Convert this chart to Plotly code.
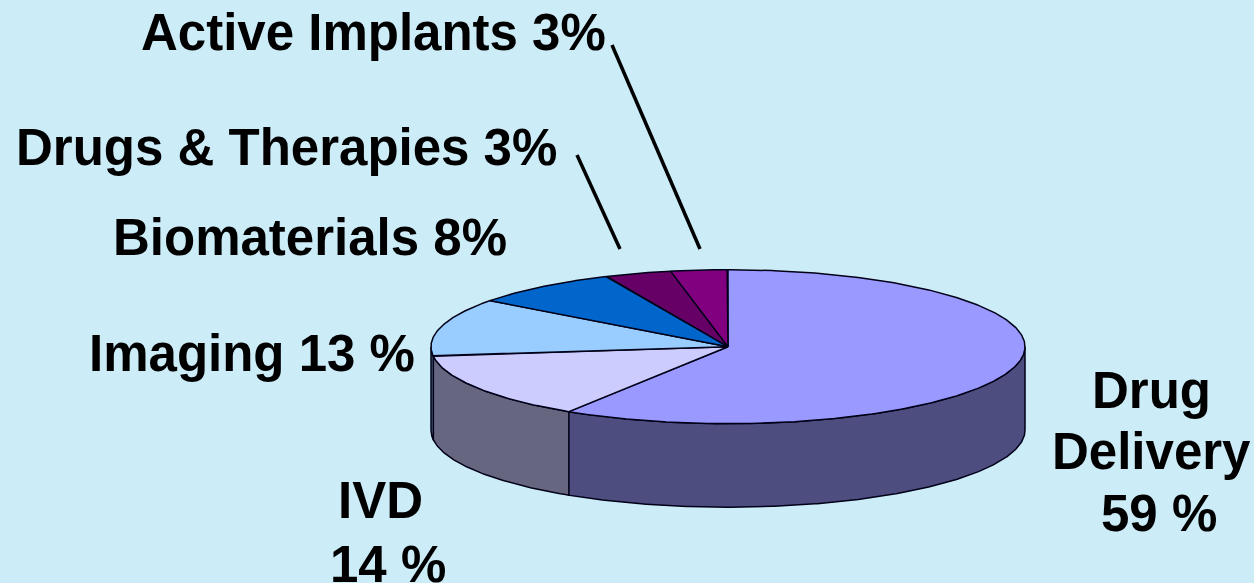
import numpy as np
import plotly.graph_objects as go

categories = ["Drug Delivery", "IVD", "Imaging", "Biomaterials", "Drugs & Therapies", "Active Implants"]
shares = [59, 14, 12.2, 8.1, 3.6, 3.1]
top_colors = ["#9999FF", "#CCCCFF", "#99CCFF", "#0066CC", "#660066", "#800080"]
side_colors = ["#4D4D80", "#666680", "#4D6680", "#003366", "#330033", "#400040"]
label_lines = ["Drug", "Delivery", "59 %", "IVD", "14 %", "Imaging 13 %", "Biomaterials 8%",
               "Drugs &amp; Therapies 3%", "Active Implants 3%"]

CX, CY, RX, RY, DEPTH = 728, 346.7, 297, 77, 83.5
BG = "#CCECF8"
OUT = "#000018"


def rim(a0, a1):
    t = np.radians(np.arange(a0, a1 + 0.25, 0.5))
    return CX + RX * np.sin(t), CY - RY * np.cos(t)


fig = go.Figure()
edges = np.concatenate([[0], np.cumsum(shares)]) * 3.6

# Visible outer wall: the front half of the ellipse (90 to 270 degrees clockwise from the top)
for i in range(len(shares)):
    a0, a1 = max(edges[i], 90), min(edges[i + 1], 270)
    if a1 <= a0:
        continue
    x, y = rim(a0, a1)
    fig.add_trace(go.Scatter(
        x=np.concatenate([x, x[::-1], x[:1]]),
        y=np.concatenate([y, y[::-1] + DEPTH, y[:1]]),
        mode="lines", fill="toself", fillcolor=side_colors[i],
        line=dict(color=OUT, width=1.5), hoverinfo="skip", showlegend=False))

# Top face
for i, name in enumerate(categories):
    x, y = rim(edges[i], edges[i + 1])
    fig.add_trace(go.Scatter(
        x=np.concatenate([[CX], x, [CX]]),
        y=np.concatenate([[CY], y, [CY]]),
        mode="lines", fill="toself", fillcolor=top_colors[i], name=name,
        line=dict(color=OUT, width=1.5), showlegend=False))

# Leader lines
leaders = [((612, 45), (700, 249)), ((577, 155), (620, 249))]
for p, q in leaders:
    fig.add_trace(go.Scatter(x=[p[0], q[0]], y=[p[1], q[1]], mode="lines",
                             line=dict(color="black", width=3.5), hoverinfo="skip", showlegend=False))

label_pos = [(1151, 390), (1151, 451), (1159, 513), (380, 500), (388, 564),
             (252, 353), (310, 237), (286, 147), (373.5, 32)]
annotations = [dict(x=x, y=y, text="<b>" + t + "</b>", showarrow=False, xref="x", yref="y",
                    font=dict(family="Liberation Sans", size=51, color="black"),
                    align="center", xanchor="center", yanchor="middle")
               for t, (x, y) in zip(label_lines, label_pos)]

fig.update_layout(
    width=1254, height=583, autosize=False,
    margin=dict(l=0, r=0, t=0, b=0),
    paper_bgcolor=BG, plot_bgcolor=BG,
    xaxis=dict(range=[0, 1254], visible=False, fixedrange=True),
    yaxis=dict(range=[583, 0], visible=False, fixedrange=True),
    annotations=annotations,
)
fig.write_html("out.html", config=dict(displayModeBar=False),
               post_script="document.body.style.margin='0';document.body.style.overflow='hidden';"
                           "document.documentElement.style.overflow='hidden';")
